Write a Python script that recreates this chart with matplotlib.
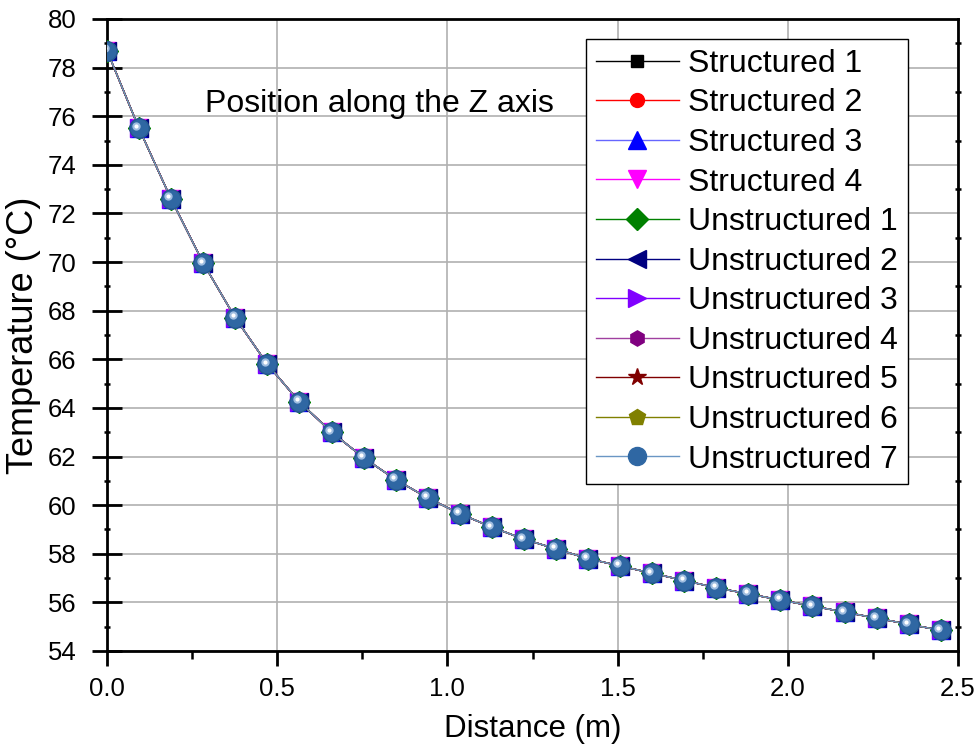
import matplotlib
matplotlib.use("Agg")
import matplotlib.pyplot as plt
from matplotlib.ticker import MultipleLocator
from matplotlib.transforms import ScaledTranslation

plt.rcParams['font.family'] = ['Liberation Sans', 'DejaVu Sans']

distance = [0.0, 0.094, 0.188, 0.283, 0.377, 0.471, 0.565, 0.660, 0.754, 0.848,
            0.942, 1.036, 1.130, 1.225, 1.319, 1.413, 1.507, 1.601, 1.696, 1.790,
            1.884, 1.978, 2.072, 2.167, 2.261, 2.355, 2.449]
temperature = [78.7, 75.5, 72.6, 69.95, 67.7, 65.8, 64.25, 63.0, 61.95, 61.05,
               60.3, 59.65, 59.1, 58.6, 58.2, 57.8, 57.5, 57.2, 56.9, 56.6,
               56.35, 56.1, 55.85, 55.6, 55.35, 55.1, 54.85]

series_names = ["Structured 1", "Structured 2", "Structured 3", "Structured 4",
                "Unstructured 1", "Unstructured 2", "Unstructured 3", "Unstructured 4",
                "Unstructured 5", "Unstructured 6", "Unstructured 7"]
series_colors = ["#000000", "#ff0000", "#0000ff", "#ff00ff", "#008000", "#000080",
                 "#8000ff", "#800080", "#800000", "#808000", "#2f67a3"]
series_markers = ["s", "o", "^", "v", "D", "<", ">", "h", "*", "p", "o"]
series_msize = [9, 10, 13, 13, 11, 13, 13, 11, 13, 12, 13]
line_colors = ["#000000", "#ff0000", "#6666ff", "#ff00ff", "#008000", "#000080",
               "#8000ff", "#a040a0", "#800000", "#808000", "#6a96c4"]

fig = plt.figure(figsize=(9.8, 7.53), dpi=100)
ax = fig.add_axes([107/980, 102/753, 851/980, 632/753])

handles = []
for name, c, lc, m, ms in zip(series_names, series_colors, line_colors, series_markers, series_msize):
    h, = ax.plot(distance, temperature, color=lc, lw=1.0, marker=m, markersize=ms,
                 markerfacecolor=c, markeredgecolor=c, label=name, zorder=3)
    handles.append(h)

# sphere-like look for the top (Unstructured 7) markers
ax.plot(distance, temperature, linestyle='none', marker='o', markersize=14,
        markerfacecolor='#2f67a3', markeredgecolor='#24578f', markeredgewidth=1.0, zorder=4)
hl = ScaledTranslation(-2.5/100, 2.5/100, fig.dpi_scale_trans)
ax.plot(distance, temperature, linestyle='none', marker='o', markersize=6,
        markerfacecolor='#9fbde0', markeredgecolor='none', zorder=5,
        transform=ax.transData + hl)
ax.plot(distance, temperature, linestyle='none', marker='o', markersize=3,
        markerfacecolor='#ffffff', markeredgecolor='none', zorder=6,
        transform=ax.transData + hl)

ax.set_xlim(0, 2.5)
ax.set_ylim(54, 80)
ax.xaxis.set_major_locator(MultipleLocator(0.5))
ax.xaxis.set_minor_locator(MultipleLocator(0.25))
ax.yaxis.set_major_locator(MultipleLocator(2))
ax.yaxis.set_minor_locator(MultipleLocator(1))
ax.xaxis.set_major_formatter(plt.FuncFormatter(lambda v, p: f"{v:.1f}"))
ax.grid(True, which='major', color='#b0b0b0', lw=1.2, zorder=0)
ax.set_axisbelow(True)

for s in ax.spines.values():
    s.set_linewidth(2.0)
ax.tick_params(axis='x', which='major', direction='out', length=11, width=2.0,
               labelsize=18.5, pad=8)
ax.tick_params(axis='y', which='major', direction='inout', length=22, width=2.0,
               labelsize=18.5, pad=11)
ax.tick_params(axis='both', which='minor', direction='out', length=6, width=1.8)
ax.tick_params(axis='y', which='minor', right=True, direction='inout', length=5)

ax.set_xlabel("Distance (m)", fontsize=22.5, va='top')
ax.xaxis.set_label_coords(0.5, -0.1)
ax.set_ylabel("Temperature (°C)", fontsize=26)
ax.yaxis.set_label_coords(-0.078, 0.5)

ax.text(0.115, 0.866, "Position along the Z axis", transform=ax.transAxes,
        fontsize=23, ha='left', va='center')

leg = ax.legend(handles=handles, loc='upper right', bbox_to_anchor=(0.941, 0.968), fontsize=23,
                frameon=True, fancybox=False, edgecolor='black', framealpha=1,
                handlelength=2.6, labelspacing=0.3, borderpad=0.3,
                handletextpad=0.3, borderaxespad=0)
leg.get_frame().set_linewidth(1.0)

fig.savefig("out.png", dpi=100)
